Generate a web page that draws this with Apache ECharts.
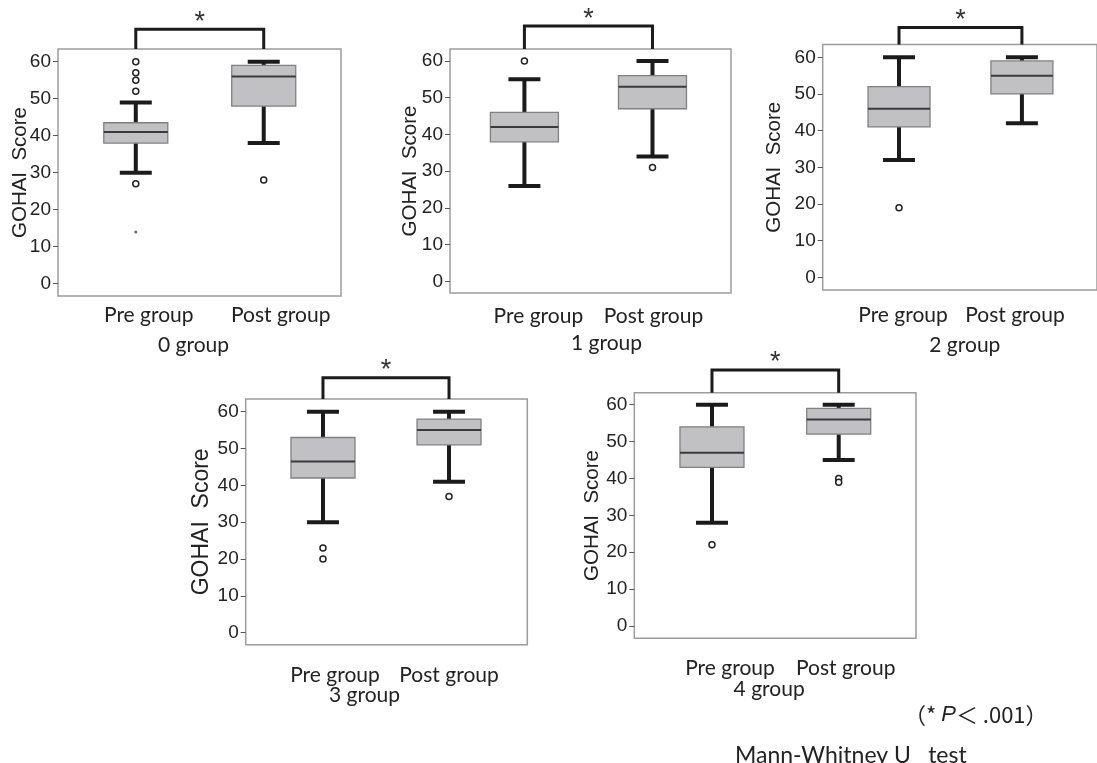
<!DOCTYPE html>
<html><head><meta charset="utf-8">
<script src="https://cdn.jsdelivr.net/npm/echarts@6/dist/echarts.min.js"></script>
<style>html,body{margin:0;padding:0;background:#fff}#c{width:1097px;height:763px}</style>
</head><body><div id="c"></div>
<script>
// ---------- data ----------
const categories = ['Pre group', 'Post group'];
const groupNames = ['0 group', '1 group', '2 group', '3 group', '4 group'];
const yTicks = [0, 10, 20, 30, 40, 50, 60];
const yAxisTitle = 'GOHAI  Score';
const sigMark = '*';
const noteText = '（* {i|P}＜ .001）';
const testText = 'Mann-Whitney U\u2003test';

// box stats: [lower whisker, Q1, median, Q3, upper whisker]
const pre0 = [30, 38, 41, 43.5, 49];
const post0 = [38, 48, 56, 59, 60];
const pre1 = [26, 38, 42, 46, 55];
const post1 = [34, 47, 53, 56, 60];
const pre2 = [32, 41, 46, 52, 60];
const post2 = [42, 50, 55, 59, 60];
const pre3 = [30, 42, 46.5, 53, 60];
const post3 = [41, 51, 55, 58, 60];
const pre4 = [28, 43, 47, 54, 60];
const post4 = [45, 52, 56, 59, 60];

// outliers: [category number (1 = Pre, 2 = Post), value]
const outliers0 = [[1, 60], [1, 57], [1, 55], [1, 52], [1, 27], [2, 28]];
const extremes0 = [[1, 14]];
const outliers1 = [[1, 60], [2, 31]];
const outliers2 = [[1, 19]];
const outliers3 = [[1, 23], [1, 20], [2, 37]];
const outliers4 = [[1, 22], [2, 40], [2, 39]];

// significance bracket height (score units)
const bracketY = [68.8, 69.5, 68.1, 69.2, 69.4];

const boxes = [[pre0, post0], [pre1, post1], [pre2, post2], [pre3, post3], [pre4, post4]];
const outliers = [outliers0, outliers1, outliers2, outliers3, outliers4];
const extremes = [extremes0, [], [], [], []];

// ---------- layout ----------
const layout = [
  {left: 58, top: 49, width: 283, height: 247, xMin: 0.392, xMax: 2.604, yMin: -3.32, yMax: 63.43,
   lab: [13, 17], labM: 9, nameShift: -6, nameGap: 39, yGap: 27, ySize: 20.5, half: 32},
  {left: 450, top: 49, width: 281, height: 244, xMin: 0.419, xMax: 2.613, yMin: -3.15, yMax: 63.26,
   lab: [14, 1], labM: 13, nameShift: 16, nameGap: 40, yGap: 29, ySize: 20.5, half: 34},
  {left: 822.7, top: 44.5, width: 281.3, height: 245.5, xMin: 0.379, xMax: 2.611, yMin: -3.46, yMax: 63.49,
   lab: [4, -7], labM: 15, nameShift: 5, nameGap: 45, yGap: 38, ySize: 20.5, half: 31},
  {left: 245.7, top: 399, width: 281.6, height: 245.7, xMin: 0.387, xMax: 2.621, yMin: -3.26, yMax: 63.45,
   lab: [12, 0], labM: 20, nameShift: -22, nameGap: 40, yGap: 33, ySize: 23, half: 32},
  {left: 634.3, top: 392.7, width: 281.7, height: 245.6, xMin: 0.387, xMax: 2.61, yMin: -3.34, yMax: 63.25,
   lab: [18, 7], labM: 19, nameShift: -6, nameGap: 40, yGap: 31, ySize: 20.5, half: 32}
];

const numFont = 'Liberation Sans';
const txtFont = 'Lato';

function pad(shift) { return shift >= 0 ? [0, 0, 0, 2 * shift] : [0, -2 * shift, 0, 0]; }

function boxRenderer(halfW) {
  const capHalf = 16;
  return function (params, api) {
    const x = api.value(0);
    const lo = api.coord([x, api.value(1)]);
    const q1 = api.coord([x, api.value(2)]);
    const md = api.coord([x, api.value(3)]);
    const q3 = api.coord([x, api.value(4)]);
    const hi = api.coord([x, api.value(5)]);
    const cx = lo[0];
    const w = {stroke: '#1b1b1b', lineWidth: 4};
    return {type: 'group', children: [
      {type: 'line', shape: {x1: cx, y1: lo[1], x2: cx, y2: q1[1]}, style: w},
      {type: 'line', shape: {x1: cx, y1: q3[1], x2: cx, y2: hi[1]}, style: w},
      {type: 'line', shape: {x1: cx - capHalf, y1: lo[1], x2: cx + capHalf, y2: lo[1]}, style: w},
      {type: 'line', shape: {x1: cx - capHalf, y1: hi[1], x2: cx + capHalf, y2: hi[1]}, style: w},
      {type: 'rect', shape: {x: cx - halfW, y: q3[1], width: 2 * halfW, height: q1[1] - q3[1]},
       style: {fill: '#c1c1c4', stroke: '#808080', lineWidth: 1.3}},
      {type: 'line', shape: {x1: cx - halfW, y1: md[1], x2: cx + halfW, y2: md[1]},
       style: {stroke: '#3a3a3a', lineWidth: 2}}
    ]};
  };
}

function bracketRenderer() {
  return function (params, api) {
    const a = api.coord([api.value(0), api.value(2)]);
    const b = api.coord([api.value(1), api.value(2)]);
    const aTop = api.coord([api.value(0), api.value(3)]);
    const s = {stroke: '#1b1b1b', lineWidth: 3, fill: 'none'};
    return {type: 'group', children: [
      {type: 'polyline', shape: {points: [[a[0], a[1]], [a[0], aTop[1]], [b[0], aTop[1]], [b[0], b[1]]]}, style: s},
      {type: 'text', x: (a[0] + b[0]) / 2, y: aTop[1] - 7,
       style: {text: sigMark, font: '27px "' + numFont + '"', fill: '#333', align: 'center', verticalAlign: 'middle'}}
    ]};
  };
}

const grid = [], xAxis = [], yAxis = [], series = [];
layout.forEach((L, i) => {
  grid.push({left: L.left, top: L.top, width: L.width, height: L.height, show: true,
    borderColor: '#9c9c9c', borderWidth: 1.5, backgroundColor: 'transparent', containLabel: false});
  const rich = {c: {fontFamily: txtFont, fontSize: 21, color: '#222'}};
  rich['p0'] = Object.assign({}, rich.c, {padding: pad(L.lab[0])});
  rich['p1'] = Object.assign({}, rich.c, {padding: pad(L.lab[1])});
  xAxis.push({type: 'value', gridIndex: i, min: L.xMin, max: L.xMax,
    splitLine: {show: false}, axisLine: {show: false}, axisTick: {show: false},
    axisLabel: {customValues: [1, 2], margin: L.labM, color: '#222', fontFamily: txtFont, fontSize: 21,
      formatter: (v) => '{p' + (Math.round(v) - 1) + '|' + categories[Math.round(v) - 1] + '}', rich: rich},
    name: groupNames[i], nameLocation: 'middle', nameGap: L.nameGap, nameMoveOverlap: false,
    nameTextStyle: {fontFamily: txtFont, fontSize: 21, color: '#222', padding: pad(L.nameShift)}});
  yAxis.push({type: 'value', gridIndex: i, min: L.yMin, max: L.yMax,
    splitLine: {show: false}, axisLine: {show: false},
    axisTick: {show: true, customValues: yTicks, length: 5, inside: false, lineStyle: {color: '#555', width: 1}},
    axisLabel: {customValues: yTicks, margin: 7, color: '#222', fontFamily: numFont, fontSize: 19},
    name: yAxisTitle, nameLocation: 'middle', nameGap: L.yGap, nameMoveOverlap: false,
    nameTextStyle: {fontFamily: numFont, fontSize: L.ySize, color: '#222'}});
  series.push({type: 'custom', xAxisIndex: i, yAxisIndex: i, renderItem: boxRenderer(L.half), clip: false,
    encode: {x: 0, y: [1, 2, 3, 4, 5]},
    data: boxes[i].map((b, k) => [k + 1].concat(b)), silent: true, z: 2});
  series.push({type: 'scatter', xAxisIndex: i, yAxisIndex: i, data: outliers[i], symbol: 'circle', symbolSize: 6,
    itemStyle: {color: '#fff', borderColor: '#222', borderWidth: 1.5, opacity: 1}, silent: true, z: 3});
  if (extremes[i].length) {
    series.push({type: 'scatter', xAxisIndex: i, yAxisIndex: i, data: extremes[i], symbol: 'circle', symbolSize: 3,
      itemStyle: {color: '#444'}, silent: true, z: 3});
  }
  series.push({type: 'custom', xAxisIndex: i, yAxisIndex: i, renderItem: bracketRenderer(), clip: false,
    encode: {x: [0, 1], y: [2, 3]},
    data: [[1, 2, L.yMax, bracketY[i]]], silent: true, z: 4});
});

const chart = echarts.init(document.getElementById('c'), null, {renderer: 'canvas'});
chart.setOption({
  animation: false,
  backgroundColor: '#fff',
  grid, xAxis, yAxis, series,
  graphic: [
    {type: 'text', left: 904, top: 704,
     style: {text: noteText, font: '22px "Noto Sans CJK JP"', fill: '#222',
       rich: {i: {fontStyle: 'italic', fontFamily: numFont, fontSize: 22, fill: '#222'}}}},
    {type: 'text', left: 735, top: 744,
     style: {text: testText, font: '23px "' + txtFont + '"', fill: '#222'}}
  ]
});
</script></body></html>
